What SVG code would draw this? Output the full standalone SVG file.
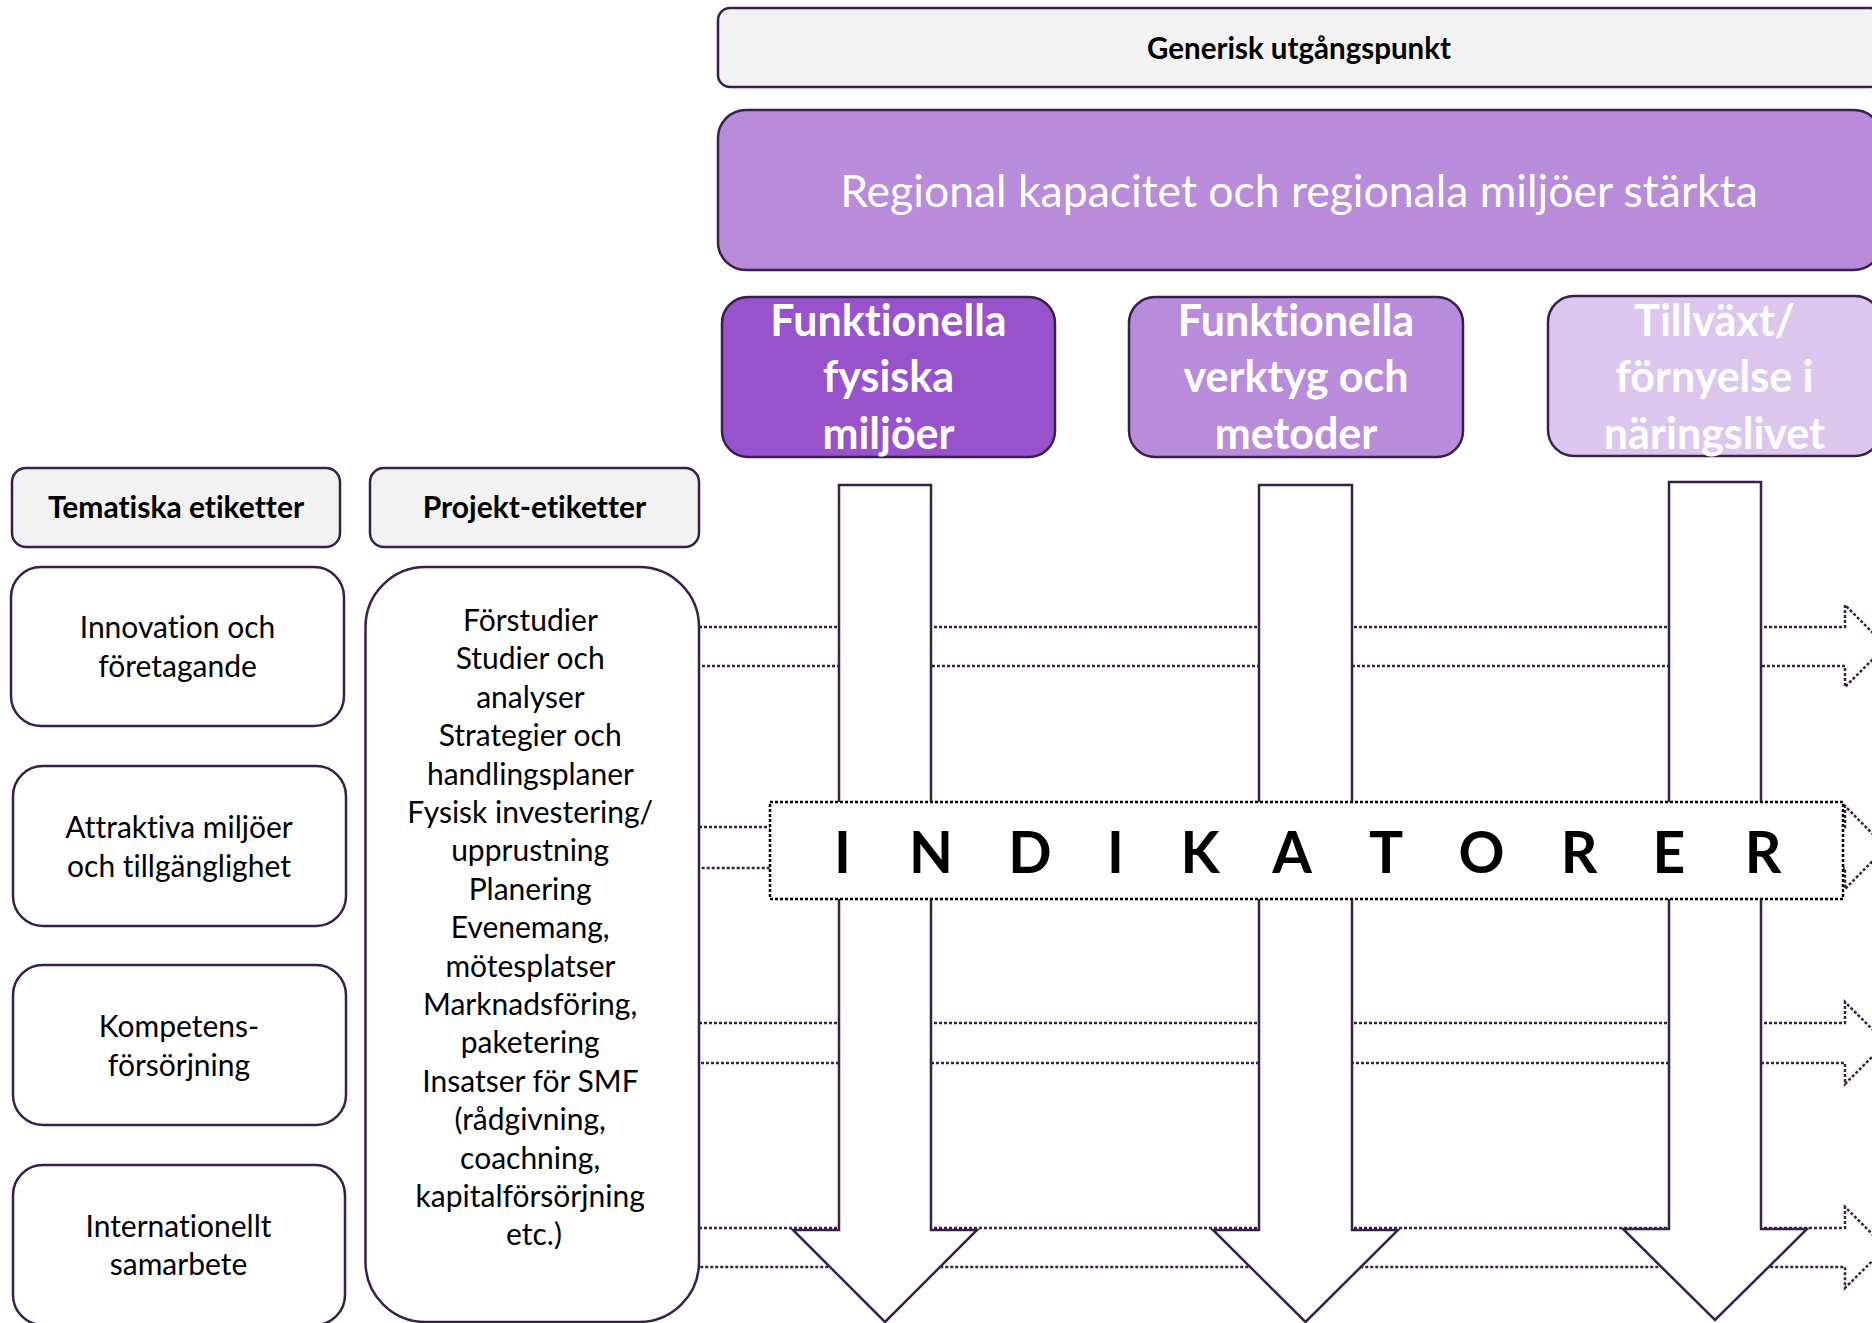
<svg xmlns="http://www.w3.org/2000/svg" width="1872" height="1323" viewBox="0 0 1872 1323">
<style>
  .box { stroke: #3A1F4D; stroke-width: 2.5; }
  .hdr { fill: #F2F2F2; }
  .wb { fill: #FFFFFF; }
  .t { font-family: Lato, "Open Sans", sans-serif; fill: #000; text-anchor: middle; font-variant-ligatures: none; font-feature-settings: "liga" 0, "dlig" 0; }
  .b { font-weight: bold; }
  .wt { fill: #FFFFFF; }
  .dot { fill: none; stroke: #3A1F4D; stroke-width: 2.5; stroke-dasharray: 3 2; }
  .blk { fill: #FFFFFF; stroke: #3A1F4D; stroke-width: 2.5; stroke-linejoin: miter; }
</style>
<g id="connectors">
  <path class="dot" d="M699,627 H1845 V605 L1886,646 L1845,687 V666 H699"/>
  <path class="dot" d="M699,827 H1845 V806 L1886,847.5 L1845,889 V868 H699"/>
  <path class="dot" d="M699,1023 H1845 V1002 L1886,1043 L1845,1084 V1063 H699"/>
  <path class="dot" d="M699,1228 H1845 V1207 L1886,1247.5 L1845,1288 V1267 H699"/>
  <path id="arrow-fysiska" class="blk" d="M839,485 H931 V1230 H977 L885,1322 L793,1230 H839 Z"/>
  <path id="arrow-verktyg" class="blk" d="M1259,485 H1352 V1230 H1398 L1305.5,1322 L1213,1230 H1259 Z"/>
  <path id="arrow-tillvaxt" class="blk" d="M1669,482 H1761 V1229 H1807 L1715,1320 L1623,1229 H1669 Z"/>
</g>
<g id="generisk">
  <rect class="box hdr" x="718" y="8" width="1164" height="79" rx="12"/>
  <text class="t b" x="1299" y="59" font-size="29.5">Generisk utgångspunkt</text>
</g>
<g id="regional">
  <rect class="box" fill="#B88CDB" x="718" y="110" width="1164" height="160" rx="28"/>
  <text class="t wt" x="1299" y="207" font-size="44.5">Regional kapacitet och regionala miljöer stärkta</text>
</g>
<g id="fysiska">
  <rect class="box" fill="#9752CC" x="722" y="297" width="333" height="160" rx="26"/>
  <text class="t b wt" font-size="43"><tspan x="888.5" y="336">Funktionella</tspan><tspan x="888.5" y="392">fysiska</tspan><tspan x="888.5" y="449">miljöer</tspan></text>
</g>
<g id="verktyg">
  <rect class="box" fill="#B88CDB" x="1129" y="297" width="334" height="160" rx="26"/>
  <text class="t b wt" font-size="43"><tspan x="1296" y="336">Funktionella</tspan><tspan x="1296" y="392">verktyg och</tspan><tspan x="1296" y="449">metoder</tspan></text>
</g>
<g id="tillvaxt">
  <rect class="box" fill="#DDC6ED" x="1548" y="296" width="333" height="160" rx="26"/>
  <text class="t b wt" font-size="43"><tspan x="1714.5" y="336">Tillväxt/</tspan><tspan x="1714.5" y="392">förnyelse i</tspan><tspan x="1714.5" y="449">näringslivet</tspan></text>
</g>
<g id="indikatorer">
  <rect x="770" y="802" width="1073" height="97" fill="#FFFFFF" stroke="#000" stroke-width="2.5" stroke-dasharray="3 2"/>
  <text class="t b" font-size="57" x="842.5 887 931 980 1030 1073 1115.5 1158 1200 1246 1292 1339 1386 1434 1481.5 1530 1579 1624 1669 1716 1763" y="873">I N D I K A T O R E R</text>
</g>
<g id="tematiska">
  <rect class="box hdr" x="12" y="468" width="328" height="79" rx="14"/>
  <text class="t b" x="176" y="518" font-size="30">Tematiska etiketter</text>
</g>
<g id="projekt-hdr">
  <rect class="box hdr" x="370" y="468" width="329" height="79" rx="14"/>
  <text class="t b" x="534.5" y="518" font-size="30">Projekt-etiketter</text>
</g>
<g id="innovation">
  <rect class="box wb" x="11" y="567" width="333" height="159" rx="30"/>
  <text class="t" font-size="30"><tspan x="177.5" y="638">Innovation och</tspan><tspan x="177.5" y="677">företagande</tspan></text>
</g>
<g id="attraktiva">
  <rect class="box wb" x="13" y="766" width="333" height="160" rx="30"/>
  <text class="t" font-size="30"><tspan x="179" y="838">Attraktiva miljöer</tspan><tspan x="179" y="877">och tillgänglighet</tspan></text>
</g>
<g id="kompetens">
  <rect class="box wb" x="13" y="965" width="333" height="160" rx="30"/>
  <text class="t" font-size="30"><tspan x="179" y="1037">Kompetens-</tspan><tspan x="179" y="1076">försörjning</tspan></text>
</g>
<g id="internationellt">
  <rect class="box wb" x="13" y="1165" width="332" height="160" rx="30"/>
  <text class="t" font-size="30"><tspan x="178.5" y="1237">Internationellt</tspan><tspan x="178.5" y="1275">samarbete</tspan></text>
</g>
<g id="projekt">
  <rect class="box wb" x="365.5" y="567" width="333.5" height="755" rx="60"/>
  <text class="t" font-size="30">
    <tspan x="534" y="631">Förstudier</tspan>
    <tspan x="534" y="669.4">Studier och</tspan>
    <tspan x="534" y="707.8">analyser</tspan>
    <tspan x="534" y="746.2">Strategier och</tspan>
    <tspan x="534" y="784.6">handlingsplaner</tspan>
    <tspan x="534" y="823">Fysisk investering/</tspan>
    <tspan x="534" y="861.4">upprustning</tspan>
    <tspan x="534" y="899.8">Planering</tspan>
    <tspan x="534" y="938.2">Evenemang,</tspan>
    <tspan x="534" y="976.6">mötesplatser</tspan>
    <tspan x="534" y="1015">Marknadsföring,</tspan>
    <tspan x="534" y="1053.4">paketering</tspan>
    <tspan x="534" y="1091.8">Insatser för SMF</tspan>
    <tspan x="534" y="1130.2">(rådgivning,</tspan>
    <tspan x="534" y="1168.6">coachning,</tspan>
    <tspan x="534" y="1207">kapitalförsörjning</tspan>
    <tspan x="534" y="1245.4">etc.)</tspan>
  </text>
</g>
</svg>
